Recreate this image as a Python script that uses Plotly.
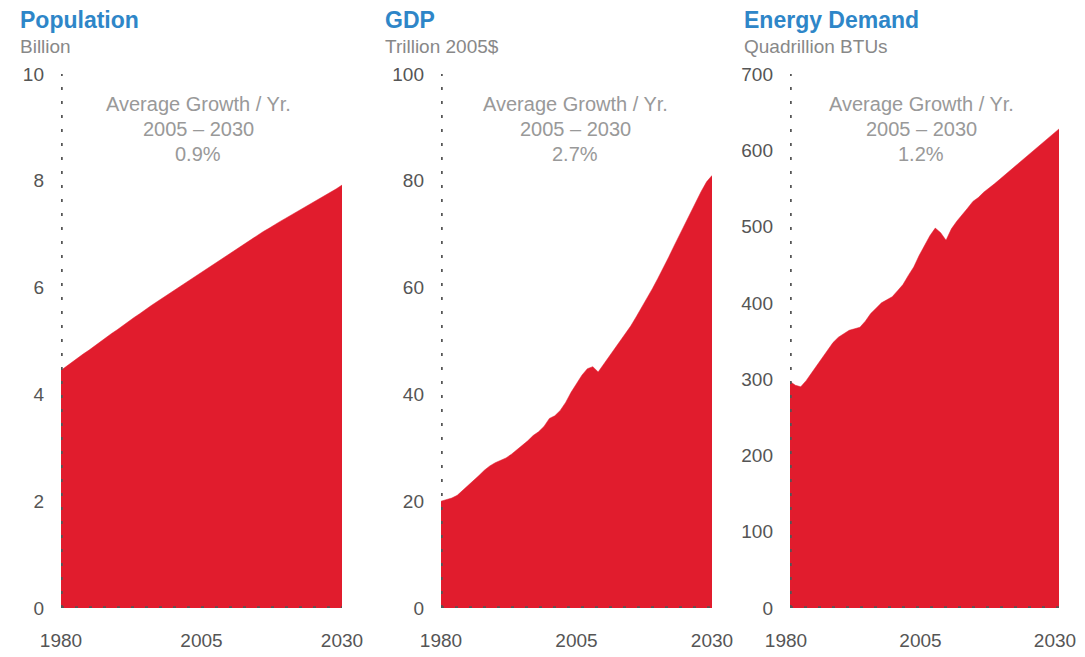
import plotly.graph_objects as go

years = list(range(1980, 2031))

population = [4.45, 4.53, 4.61, 4.68, 4.76, 4.83, 4.91, 4.99, 5.06, 5.14,
              5.21, 5.29, 5.36, 5.44, 5.51, 5.59, 5.66, 5.73, 5.80, 5.87,
              5.94, 6.01, 6.08, 6.15, 6.22, 6.29, 6.36, 6.43, 6.50, 6.57,
              6.64, 6.71, 6.78, 6.85, 6.92, 6.98, 7.05, 7.11, 7.18, 7.24,
              7.30, 7.36, 7.42, 7.48, 7.54, 7.60, 7.66, 7.72, 7.78, 7.85,
              7.92]

gdp = [20.0, 20.3, 20.6, 21.1, 22.0, 22.9, 23.8, 24.8, 25.8, 26.6,
       27.2, 27.6, 28.1, 28.8, 29.6, 30.4, 31.3, 32.3, 33.0, 34.0,
       35.5, 36.0, 37.0, 38.5, 40.4, 42.0, 43.6, 44.8, 45.2, 44.2,
       45.6, 47.0, 48.4, 49.8, 51.2, 52.8, 54.5, 56.2, 58.0, 59.8,
       61.7, 63.6, 65.7, 67.8, 69.9, 72.0, 74.0, 76.0, 78.0, 79.8,
       81.0]

energy = [297, 292, 290, 298, 308, 318, 328, 338, 348, 355,
          360, 364, 366, 368, 376, 386, 393, 400, 404, 408,
          416, 424, 436, 447, 462, 475, 488, 498, 492, 482,
          497, 507, 515, 524, 533, 538, 545, 550, 556, 562,
          568, 574, 580, 587, 593, 599, 605, 611, 617, 623,
          628]

titles = ["Population", "GDP", "Energy Demand"]
units = ["Billion", "Trillion 2005$", "Quadrillion BTUs"]
growth = ["0.9%", "2.7%", "1.2%"]
y_ranges = [10, 100, 700]
y_dticks = [2, 20, 100]
x_ticks = [1980, 2005, 2030]
series = [population, gdp, energy]

# page body has an 8px margin: work in window pixels and shift
OFF = 8
W, H = 1085 - 2 * OFF, 657 - OFF
RED = "#E11C2D"
BLUE = "#2E86C8"
FONT = "Liberation Sans, Arial, sans-serif"

x_px = [(61, 342), (441, 712), (790, 1059)]
title_x = [18, 383, 742]
note_x = [198, 575, 921]
label_shift = [0, 0, -4]


def px(xw):
    return (xw - OFF) / W


def py(yw):
    return 1 - (yw - OFF) / H


y_dom = [py(608), py(74)]

fig = go.Figure()
for i in range(3):
    xa = "x" if i == 0 else f"x{i+1}"
    ya = "y" if i == 0 else f"y{i+1}"
    fig.add_trace(go.Scatter(
        x=years, y=series[i], mode="lines", fill="tozeroy",
        fillcolor=RED, line=dict(color=RED, width=0.5),
        xaxis=xa, yaxis=ya, showlegend=False, hoverinfo="x+y"))
    xkey = "xaxis" if i == 0 else f"xaxis{i+1}"
    ykey = "yaxis" if i == 0 else f"yaxis{i+1}"
    fig.update_layout(**{
        xkey: dict(domain=[px(x_px[i][0]), px(x_px[i][1])], range=[1980, 2030],
                   tickvals=x_ticks, showgrid=False, zeroline=False, showline=False,
                   ticks="", ticklabelstandoff=19, ticklabelshift=label_shift[i],
                   anchor=ya, automargin=False,
                   tickfont=dict(family=FONT, size=19, color="#555")),
        ykey: dict(domain=y_dom, range=[0, y_ranges[i]], dtick=y_dticks[i],
                   showgrid=False, zeroline=False, showline=False, ticks="",
                   ticklabelstandoff=16, anchor=xa, automargin=False,
                   tickfont=dict(family=FONT, size=19, color="#555")),
    })
    # dotted axes
    fig.add_shape(type="line", xref=xa, yref=ya, x0=1980, x1=1980, y0=0,
                  y1=y_ranges[i], line=dict(color="#555", width=3.5, dash="3px,11px"),
                  layer="above")
    fig.add_shape(type="line", xref=xa, yref=ya, x0=1980, x1=2030, y0=0,
                  y1=0, line=dict(color="#555", width=3.5, dash="3px,11px"),
                  layer="above")
    # titles
    fig.add_annotation(text=f"<b>{titles[i]}</b>", xref="paper", yref="paper",
                       x=px(title_x[i]), y=py(20), xanchor="left", yanchor="middle",
                       showarrow=False, font=dict(family=FONT, size=23, color=BLUE))
    fig.add_annotation(text=units[i], xref="paper", yref="paper",
                       x=px(title_x[i]), y=py(46), xanchor="left", yanchor="middle",
                       showarrow=False, font=dict(family=FONT, size=19, color="#888"))
    for j, line in enumerate(["Average Growth / Yr.", "2005 \u2013 2030", growth[i]]):
        fig.add_annotation(text=line, xref="paper", yref="paper",
                           x=px(note_x[i]), y=py(104 + 25 * j),
                           xanchor="center", yanchor="middle", showarrow=False,
                           font=dict(family=FONT, size=20, color="#999"))

fig.update_layout(width=W, height=H, margin=dict(l=0, r=0, t=0, b=0, pad=0),
                  paper_bgcolor="white", plot_bgcolor="white",
                  font=dict(family=FONT))
fig.write_html("out.html")
